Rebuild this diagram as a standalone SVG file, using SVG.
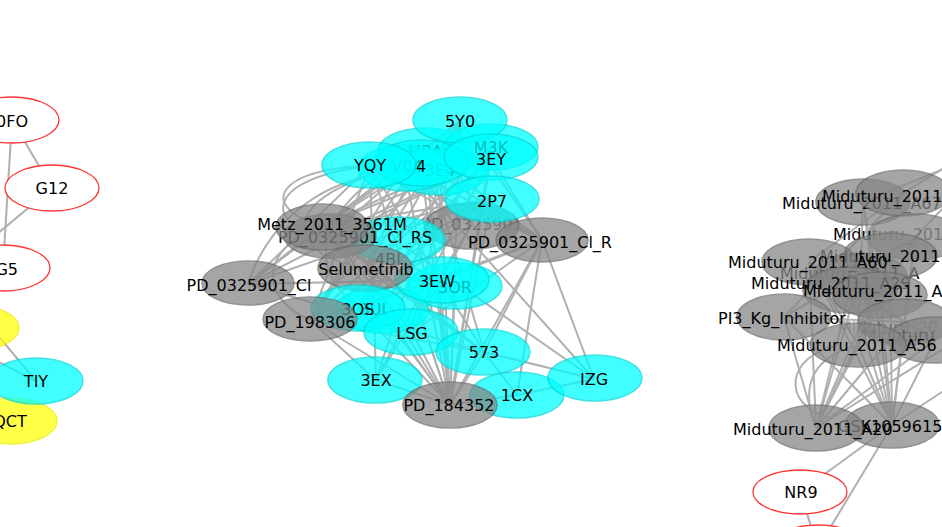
<svg xmlns="http://www.w3.org/2000/svg" width="942" height="527" viewBox="0 0 942 527">
<style>
text{font-family:"DejaVu Sans","Liberation Sans",sans-serif;font-size:16px;fill:#000;text-anchor:middle}
.st text,text.st{text-anchor:start}
.fd{fill-opacity:.3}
#edges line,#edges path{stroke:#b0b0b0;stroke-width:2;fill:none}
.cy ellipse{fill:#00ffff;stroke:#00dada;stroke-width:1.6;opacity:.74}
.gy ellipse{fill:#878787;stroke:#6e6e6e;stroke-width:1.6;opacity:.74}
.rd ellipse{fill:#fff;stroke:#ff3535;stroke-width:1.3}
.yl ellipse{fill:#ffff00;stroke:#eeee00;stroke-width:1.6;opacity:.72}
</style>
<rect width="942" height="527" fill="#fff"/>
<g id="edges">
<!-- left cluster -->
<line x1="12" y1="120" x2="52" y2="188"/>
<line x1="12" y1="120" x2="3" y2="268"/>
<line x1="12" y1="120" x2="-40" y2="175"/>
<line x1="52" y1="188" x2="-60" y2="282"/>
<line x1="-40" y1="290" x2="36" y2="381"/>
<line x1="-40" y1="342" x2="36" y2="381"/>
<!-- center cluster: PD_184352 -->
<line x1="450" y1="405" x2="460" y2="121"/>
<line x1="450" y1="405" x2="425" y2="151"/>
<line x1="450" y1="405" x2="491" y2="148"/>
<line x1="450" y1="405" x2="491" y2="158"/>
<line x1="450" y1="405" x2="404" y2="166"/>
<line x1="450" y1="405" x2="421" y2="163"/>
<line x1="450" y1="405" x2="440" y2="170"/>
<line x1="450" y1="405" x2="370" y2="166"/>
<line x1="450" y1="405" x2="492" y2="199"/>
<line x1="450" y1="405" x2="395" y2="240"/>
<line x1="450" y1="405" x2="440" y2="280"/>
<line x1="450" y1="405" x2="455" y2="286"/>
<line x1="450" y1="405" x2="358" y2="308"/>
<line x1="450" y1="405" x2="380" y2="310"/>
<line x1="450" y1="405" x2="412" y2="332"/>
<line x1="450" y1="405" x2="484" y2="352"/>
<line x1="450" y1="405" x2="376" y2="380"/>
<line x1="450" y1="405" x2="517" y2="395"/>
<line x1="450" y1="405" x2="322" y2="226"/>
<line x1="450" y1="405" x2="365" y2="268"/>
<!-- PD_0325901_Cl -->
<line x1="248" y1="284" x2="460" y2="121"/>
<line x1="248" y1="284" x2="425" y2="151"/>
<line x1="248" y1="284" x2="491" y2="158"/>
<line x1="248" y1="284" x2="404" y2="166"/>
<line x1="248" y1="284" x2="370" y2="166"/>
<line x1="248" y1="284" x2="492" y2="199"/>
<line x1="248" y1="284" x2="440" y2="280"/>
<line x1="248" y1="284" x2="412" y2="332"/>
<line x1="248" y1="284" x2="484" y2="352"/>
<line x1="248" y1="284" x2="322" y2="226"/>
<!-- PD_198306 -->
<line x1="310" y1="320" x2="460" y2="121"/>
<line x1="310" y1="320" x2="425" y2="151"/>
<line x1="310" y1="320" x2="491" y2="158"/>
<line x1="310" y1="320" x2="404" y2="166"/>
<line x1="310" y1="320" x2="370" y2="166"/>
<line x1="310" y1="320" x2="492" y2="199"/>
<line x1="310" y1="320" x2="440" y2="280"/>
<line x1="310" y1="320" x2="412" y2="332"/>
<line x1="310" y1="320" x2="484" y2="352"/>
<line x1="310" y1="320" x2="376" y2="380"/>
<line x1="310" y1="320" x2="450" y2="405"/>
<!-- Metz -->
<line x1="322" y1="226" x2="460" y2="121"/>
<line x1="322" y1="226" x2="491" y2="148"/>
<line x1="322" y1="226" x2="491" y2="158"/>
<line x1="322" y1="226" x2="421" y2="163"/>
<line x1="322" y1="226" x2="492" y2="199"/>
<line x1="322" y1="226" x2="440" y2="280"/>
<line x1="322" y1="226" x2="412" y2="332"/>
<line x1="322" y1="226" x2="484" y2="352"/>
<!-- RS -->
<line x1="330" y1="236" x2="460" y2="121"/>
<line x1="330" y1="236" x2="491" y2="158"/>
<line x1="330" y1="236" x2="492" y2="199"/>
<line x1="330" y1="236" x2="484" y2="352"/>
<!-- Selumetinib -->
<line x1="365" y1="268" x2="460" y2="121"/>
<line x1="365" y1="268" x2="425" y2="151"/>
<line x1="365" y1="268" x2="491" y2="148"/>
<line x1="365" y1="268" x2="492" y2="199"/>
<line x1="365" y1="268" x2="484" y2="352"/>
<!-- PD_0325901 -->
<line x1="472" y1="224" x2="460" y2="121"/>
<line x1="472" y1="224" x2="404" y2="166"/>
<line x1="472" y1="224" x2="370" y2="166"/>
<line x1="472" y1="224" x2="358" y2="308"/>
<line x1="472" y1="224" x2="412" y2="332"/>
<line x1="472" y1="224" x2="376" y2="380"/>
<!-- PD_0325901_Cl_R -->
<line x1="542" y1="240" x2="460" y2="121"/>
<line x1="542" y1="240" x2="425" y2="151"/>
<line x1="542" y1="240" x2="491" y2="158"/>
<line x1="542" y1="240" x2="404" y2="166"/>
<line x1="542" y1="240" x2="421" y2="163"/>
<line x1="542" y1="240" x2="370" y2="166"/>
<line x1="542" y1="240" x2="440" y2="280"/>
<line x1="542" y1="240" x2="358" y2="308"/>
<line x1="542" y1="240" x2="412" y2="332"/>
<line x1="542" y1="240" x2="484" y2="352"/>
<line x1="542" y1="240" x2="450" y2="405"/>
<line x1="542" y1="240" x2="594" y2="379"/>
<line x1="542" y1="240" x2="517" y2="395"/>
<!-- misc -->
<line x1="404" y1="166" x2="594" y2="379"/>
<line x1="395" y1="240" x2="594" y2="379"/>
<line x1="484" y1="352" x2="594" y2="379"/>
<line x1="517" y1="395" x2="594" y2="379"/>
<line x1="484" y1="352" x2="517" y2="395"/>
<line x1="376" y1="380" x2="370" y2="166"/>
<line x1="376" y1="380" x2="491" y2="158"/>
<line x1="376" y1="380" x2="460" y2="121"/>
<line x1="412" y1="332" x2="460" y2="121"/>
<line x1="484" y1="352" x2="370" y2="166"/>
<line x1="484" y1="352" x2="425" y2="151"/>
<line x1="358" y1="308" x2="491" y2="158"/>
<line x1="358" y1="308" x2="460" y2="121"/>
<line x1="380" y1="310" x2="491" y2="148"/>
<path d="M322 226 C250 205 280 160 404 166"/>
<path d="M330 236 C262 228 262 178 370 166"/>
<path d="M365 268 C280 255 272 190 421 163"/>
<path d="M310 320 C262 300 255 250 322 226"/>
<path d="M248 284 C262 240 300 190 370 176"/>
<path d="M412 332 C300 300 290 210 425 151"/>
<!-- right cluster -->
<line x1="816" y1="428" x2="784" y2="317"/>
<line x1="816" y1="428" x2="858" y2="345"/>
<line x1="816" y1="428" x2="905" y2="322"/>
<line x1="816" y1="428" x2="880" y2="295"/>
<line x1="816" y1="428" x2="890" y2="256"/>
<line x1="816" y1="428" x2="809" y2="262"/>
<line x1="816" y1="428" x2="850" y2="290"/>
<line x1="816" y1="428" x2="935" y2="340"/>
<line x1="816" y1="428" x2="915" y2="237"/>
<line x1="816" y1="428" x2="860" y2="276"/>
<line x1="892" y1="425" x2="784" y2="317"/>
<line x1="892" y1="425" x2="858" y2="345"/>
<line x1="892" y1="425" x2="905" y2="322"/>
<line x1="892" y1="425" x2="880" y2="295"/>
<line x1="892" y1="425" x2="809" y2="262"/>
<line x1="892" y1="425" x2="860" y2="276"/>
<line x1="892" y1="425" x2="850" y2="290"/>
<line x1="892" y1="425" x2="935" y2="340"/>
<line x1="892" y1="425" x2="890" y2="256"/>
<line x1="892" y1="425" x2="915" y2="237"/>
<line x1="892" y1="425" x2="863" y2="202"/>
<line x1="892" y1="425" x2="990" y2="360"/>
<line x1="816" y1="428" x2="990" y2="320"/>
<line x1="800" y1="492" x2="892" y2="425"/>
<line x1="818" y1="548" x2="892" y2="425"/>
<line x1="818" y1="548" x2="800" y2="492"/>
<line x1="903" y1="193" x2="990" y2="140"/>
<line x1="915" y1="237" x2="990" y2="160"/>
<line x1="863" y1="202" x2="990" y2="150"/>
<line x1="809" y1="262" x2="935" y2="340"/>
<line x1="784" y1="317" x2="905" y2="322"/>
<line x1="784" y1="317" x2="890" y2="256"/>
<line x1="809" y1="262" x2="858" y2="345"/>
<line x1="863" y1="202" x2="858" y2="345"/>
<line x1="903" y1="193" x2="809" y2="262"/>
<line x1="863" y1="202" x2="880" y2="295"/>
<line x1="903" y1="193" x2="784" y2="317"/>
<line x1="915" y1="237" x2="784" y2="317"/>
<line x1="890" y1="256" x2="858" y2="345"/>
<line x1="850" y1="290" x2="935" y2="340"/>
<path d="M840 345 C785 355 780 405 830 418"/>
<path d="M858 345 C800 360 805 400 816 428"/>
</g>
<!-- left cluster -->
<g id="n0FO" class="rd"><ellipse cx="12" cy="120" rx="47" ry="23"/><text x="12" y="127">0FO</text></g>
<g id="nG12" class="rd"><ellipse cx="52" cy="188" rx="47" ry="23"/><text x="52" y="194">G12</text></g>
<g id="nG5" class="rd"><ellipse cx="3" cy="268" rx="47" ry="23"/><text x="18" y="275" style="text-anchor:end">G5</text></g>
<g id="nY1" class="yl"><ellipse cx="-28" cy="328" rx="47" ry="23"/></g>
<g id="nQCT" class="yl"><ellipse cx="10" cy="421" rx="47" ry="23"/><text x="10" y="427">QCT</text></g>
<g id="nTIY" class="cy"><ellipse cx="36" cy="381" rx="47" ry="23"/><text x="36" y="387">TIY</text></g>
<!-- center cluster -->
<g id="nMRA" class="cy"><ellipse cx="425" cy="151" rx="47" ry="23"/><text x="425" y="157">MRA</text></g>
<g id="nM3K" class="cy"><ellipse cx="491" cy="147" rx="47" ry="23"/><text x="491" y="153">M3K</text></g>
<g id="n3E4" class="cy"><ellipse cx="440" cy="172" rx="47" ry="23"/><text x="440" y="176">3E4</text></g>
<g id="nV04" class="cy"><ellipse cx="405" cy="168" rx="47" ry="23"/><text x="407" y="172">V04</text></g>
<g id="nPD0325901" class="gy"><ellipse cx="472" cy="226" rx="47" ry="23"/><text x="472" y="230" class="fd">PD_0325901</text></g>
<g id="n4BI" class="cy"><ellipse cx="398" cy="240" rx="47" ry="23"/><text x="388" y="265">4BI</text></g>
<g id="n3OR" class="cy"><ellipse cx="455" cy="286" rx="47" ry="23"/><text x="455" y="293">3OR</text></g>
<g id="n3UI" class="cy"><ellipse cx="382" cy="310" rx="47" ry="23"/><text x="373" y="315">3UI</text></g>
<g id="n5Y0" class="cy"><ellipse cx="460" cy="120" rx="47" ry="23"/><text x="460" y="127">5Y0</text></g>
<g id="n4" class="cy"><ellipse cx="421" cy="163" rx="47" ry="23"/><text x="421" y="172">4</text></g>
<g id="nYQY" class="cy"><ellipse cx="369" cy="165" rx="47" ry="23"/><text x="370" y="171">YQY</text></g>
<g id="n3EY" class="cy"><ellipse cx="491" cy="157" rx="47" ry="23"/><text x="491" y="165">3EY</text></g>
<g id="n2P7" class="cy"><ellipse cx="492" cy="199" rx="47" ry="23"/><text x="492" y="207">2P7</text></g>
<g id="nPD0325901ClR" class="gy"><ellipse cx="542" cy="240" rx="46" ry="22"/><text x="540" y="248">PD_0325901_Cl_R</text></g>
<g id="nPD0325901ClRS" class="gy"><ellipse cx="330" cy="236" rx="46" ry="22"/><text x="355" y="243">PD_0325901_Cl_RS</text></g>
<g id="nMetz" class="gy"><ellipse cx="322" cy="227" rx="46" ry="23"/><text x="332" y="230">Metz_2011_3561M</text></g>
<g id="n3EW" class="cy"><ellipse cx="442" cy="280" rx="47" ry="23"/><text x="437" y="287">3EW</text></g>
<g id="nSelumetinib" class="gy"><ellipse cx="365" cy="268" rx="47" ry="23"/><text x="366" y="275">Selumetinib</text></g>
<g id="nPD0325901Cl" class="gy"><ellipse cx="248" cy="283" rx="46" ry="22"/><text x="249" y="291">PD_0325901_Cl</text></g>
<g id="n3OS" class="cy"><ellipse cx="358" cy="308" rx="47" ry="23"/><text x="358" y="315">3OS</text></g>
<g id="nPD198306" class="gy"><ellipse cx="310" cy="319" rx="47" ry="22"/><text x="310" y="328">PD_198306</text></g>
<g id="nLSG" class="cy"><ellipse cx="411" cy="332" rx="47" ry="23"/><text x="412" y="339">LSG</text></g>
<g id="n573" class="cy"><ellipse cx="483" cy="352" rx="47" ry="23"/><text x="484" y="358">573</text></g>
<g id="n3EX" class="cy"><ellipse cx="375" cy="380" rx="47" ry="23"/><text x="376" y="386">3EX</text></g>
<g id="n1CX" class="cy"><ellipse cx="517" cy="395" rx="47" ry="23"/><text x="517" y="401">1CX</text></g>
<g id="nIZG" class="cy"><ellipse cx="595" cy="378" rx="47" ry="23"/><text x="594" y="385">IZG</text></g>
<g id="nPD184352" class="gy"><ellipse cx="450" cy="405" rx="47" ry="23"/><text x="449" y="411">PD_184352</text></g>
<!-- right cluster -->
<g id="nMid_a" class="gy st"><ellipse cx="860" cy="276" rx="47" ry="23"/><text x="780" y="279">Miduturu_2011_A</text></g>
<g id="nMid_A67" class="gy st"><ellipse cx="863" cy="202" rx="47" ry="23"/><text x="782" y="209">Miduturu_2011_A67</text></g>
<g id="nMid_top" class="gy st"><ellipse cx="903" cy="193" rx="47" ry="23"/><text x="822" y="202">Miduturu_2011</text></g>
<g id="nMid_3" class="gy st"><ellipse cx="915" cy="237" rx="47" ry="23"/><text x="833" y="240">Midu<tspan class="fd">turu_201</tspan></text></g>
<g id="nMid_A57" class="gy st"><ellipse cx="890" cy="256" rx="47" ry="23"/><text x="820" y="262">Miduturu_2011</text></g>
<g id="nMid_A60" class="gy st"><ellipse cx="809" cy="262" rx="47" ry="23"/><text x="728" y="268">Miduturu_2011_A60</text></g>
<g id="nMid_A29" class="gy st"><ellipse cx="850" cy="290" rx="47" ry="23"/><text x="751" y="289">Miduturu_2011_A29</text></g>
<g id="nMid_T8" class="gy st"><ellipse cx="880" cy="295" rx="47" ry="23"/><text x="803" y="297">Miduturu_2011_A</text></g>
<g id="nMid_T10" class="gy st"><ellipse cx="905" cy="322" rx="47" ry="23"/><text x="838" y="333" class="fd">Miduturu_20</text></g>
<g id="nMid_T10b" class="gy st"><ellipse cx="935" cy="340" rx="47" ry="23"/><text x="863" y="341" class="fd">Miduturu</text></g>
<g id="nPI3" class="gy st"><ellipse cx="784" cy="317" rx="47" ry="23"/><text x="718" y="324">PI3_Kg_Inhibitor</text></g>
<g id="nMid_A56" class="gy st"><ellipse cx="858" cy="345" rx="48" ry="22"/><text x="777" y="351">Miduturu_2011_A56</text></g>
<g id="nGSK" class="gy st"><ellipse cx="892" cy="425" rx="47" ry="23"/><text x="838" y="432">GSK1059615</text></g>
<g id="nMid_A20" class="gy st"><ellipse cx="816" cy="428" rx="47" ry="23"/><text x="733" y="435">Miduturu_2011_A20</text></g>
<g id="nNR9" class="rd"><ellipse cx="800" cy="492" rx="47" ry="22"/><text x="801" y="498">NR9</text></g>
<g id="nRed2" class="rd"><ellipse cx="818" cy="548" rx="47" ry="23"/></g>
</svg>
